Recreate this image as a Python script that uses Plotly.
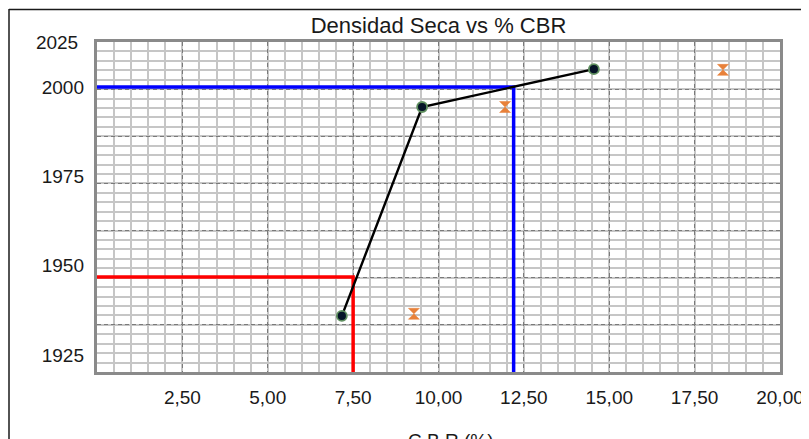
import plotly.graph_objects as go

# ---------------- data ----------------
chart_title = "Densidad Seca vs % CBR"
x_axis_title = "C.B.R (%)"

# main curve (CBR vs dry density)
cbr_values = [7.17, 9.52, 14.55]
dry_density = [1935.9, 1994.4, 2005.0]

# secondary points (hourglass markers)
cbr_points_2 = [9.28, 11.95, 18.33]
dry_density_2 = [1936.5, 1994.4, 2004.8]

# reference lines
red_cbr = 7.5
red_density = 1946.8
blue_cbr = 12.2
blue_density = 2000.0

# tick labels
x_tick_values = [2.5, 5.0, 7.5, 10.0, 12.5, 15.0, 17.5, 20.0]
x_tick_labels = ["2,50", "5,00", "7,50", "10,00", "12,50", "15,00", "17,50", "20,00"]
y_tick_values = [1925, 1950, 1975, 2000]
y_tick_labels = ["1925", "1950", "1975", "2000"]
grid_tick_values = [1850, 1875, 1900, 1925, 1950, 1975, 2000, 2025]
grid_tick_labels = ["", "", "", "", "", "", "", "2025"]

# ---------------- figure ----------------
Y2_RANGE = [1920.2, 2012.6]
FONT = "Liberation Sans, Arial, sans-serif"
OFF = 8  # page body margin of the html page

fig = go.Figure()

# empty helper trace so the grid axis (y) gets its subplot drawn
fig.add_trace(go.Scatter(x=[None], y=[None], xaxis="x", yaxis="y",
                         mode="markers", showlegend=False, hoverinfo="skip"))

fig.add_trace(go.Scatter(
    x=[0, red_cbr, red_cbr], y=[red_density, red_density, Y2_RANGE[0]],
    mode="lines", line=dict(color="#ff0000", width=3.5),
    xaxis="x", yaxis="y2", showlegend=False, hoverinfo="skip"))
fig.add_trace(go.Scatter(
    x=[0, blue_cbr, blue_cbr], y=[blue_density, blue_density, Y2_RANGE[0]],
    mode="lines", line=dict(color="#0000ff", width=3.5),
    xaxis="x", yaxis="y2", showlegend=False, hoverinfo="skip"))
fig.add_trace(go.Scatter(
    x=cbr_values, y=dry_density, mode="lines+markers",
    line=dict(color="#000000", width=2.4),
    marker=dict(symbol="circle", size=10, color="#061428",
                line=dict(color="#5f8f5f", width=1.8)),
    xaxis="x", yaxis="y2", showlegend=False))
fig.add_trace(go.Scatter(
    x=cbr_points_2, y=dry_density_2, mode="markers",
    marker=dict(symbol="hourglass", size=11, color="#e8813a",
                line=dict(color="#e8813a", width=0.5)),
    xaxis="x", yaxis="y2", showlegend=False))

minor_grid_color = "#c6c6c6"
major_grid_color = "#7a7a7a"

fig.update_layout(
    width=809, height=439,
    margin=dict(l=97 - OFF, r=29 + OFF, t=42 - OFF, b=67 + OFF, autoexpand=False),
    paper_bgcolor="white", plot_bgcolor="white",
    font=dict(family=FONT, size=19, color="#1a1a1a"),
    separators=",.",
    title=dict(text=chart_title, x=0.5, xref="paper", xanchor="center",
               y=1 - (25 - OFF) / 439, yref="container", yanchor="middle",
               font=dict(family=FONT, size=22, color="#1a1a1a")),
    xaxis=dict(
        range=[0, 20], tickmode="array", tickvals=x_tick_values, ticktext=x_tick_labels,
        showgrid=True, gridcolor=major_grid_color, gridwidth=1.3, griddash="4px,3px",
        minor=dict(tickmode="linear", tick0=0, dtick=0.5, showgrid=True,
                   gridcolor=minor_grid_color, gridwidth=1.5, griddash="solid"),
        showline=True, mirror=True, linecolor="#8a8a8a", linewidth=3,
        ticks="", ticklabelstandoff=6, zeroline=False,
        tickfont=dict(size=19)),
    yaxis=dict(
        range=[1850, 2025], tickmode="array", tickvals=grid_tick_values,
        ticktext=grid_tick_labels,
        showgrid=True, gridcolor=major_grid_color, gridwidth=1.3, griddash="4px,3px",
        minor=dict(tickmode="linear", tick0=1850, dtick=5, showgrid=True,
                   gridcolor=minor_grid_color, gridwidth=1.5, griddash="solid"),
        showline=True, mirror=True, linecolor="#8a8a8a", linewidth=3,
        ticks="", ticklabelstandoff=12, zeroline=False,
        tickfont=dict(size=19)),
    yaxis2=dict(
        range=Y2_RANGE, overlaying="y", side="left", anchor="x",
        tickmode="array", tickvals=y_tick_values, ticktext=y_tick_labels,
        showgrid=False, zeroline=False, showline=False,
        ticks="", ticklabelstandoff=12, tickfont=dict(size=19)),
    annotations=[dict(
        text=x_axis_title, xref="paper", yref="paper",
        x=(451 - 97) / 683, y=(372 - 428) / 330, xanchor="center", yanchor="top",
        showarrow=False, font=dict(family=FONT, size=19, color="#1a1a1a"))],
    shapes=[
        dict(type="line", xref="paper", yref="paper",
             x0=(9 - 97) / 683, x1=(9 - 97) / 683, y0=(372 - 9) / 330, y1=(372 - 445) / 330,
             line=dict(color="#1a1a1a", width=1.5)),
        dict(type="line", xref="paper", yref="paper",
             x0=(9 - 97) / 683, x1=(815 - 97) / 683, y0=(372 - 9.5) / 330, y1=(372 - 9.5) / 330,
             line=dict(color="#1a1a1a", width=1.5)),
    ],
)

fig.write_html("out.html")
